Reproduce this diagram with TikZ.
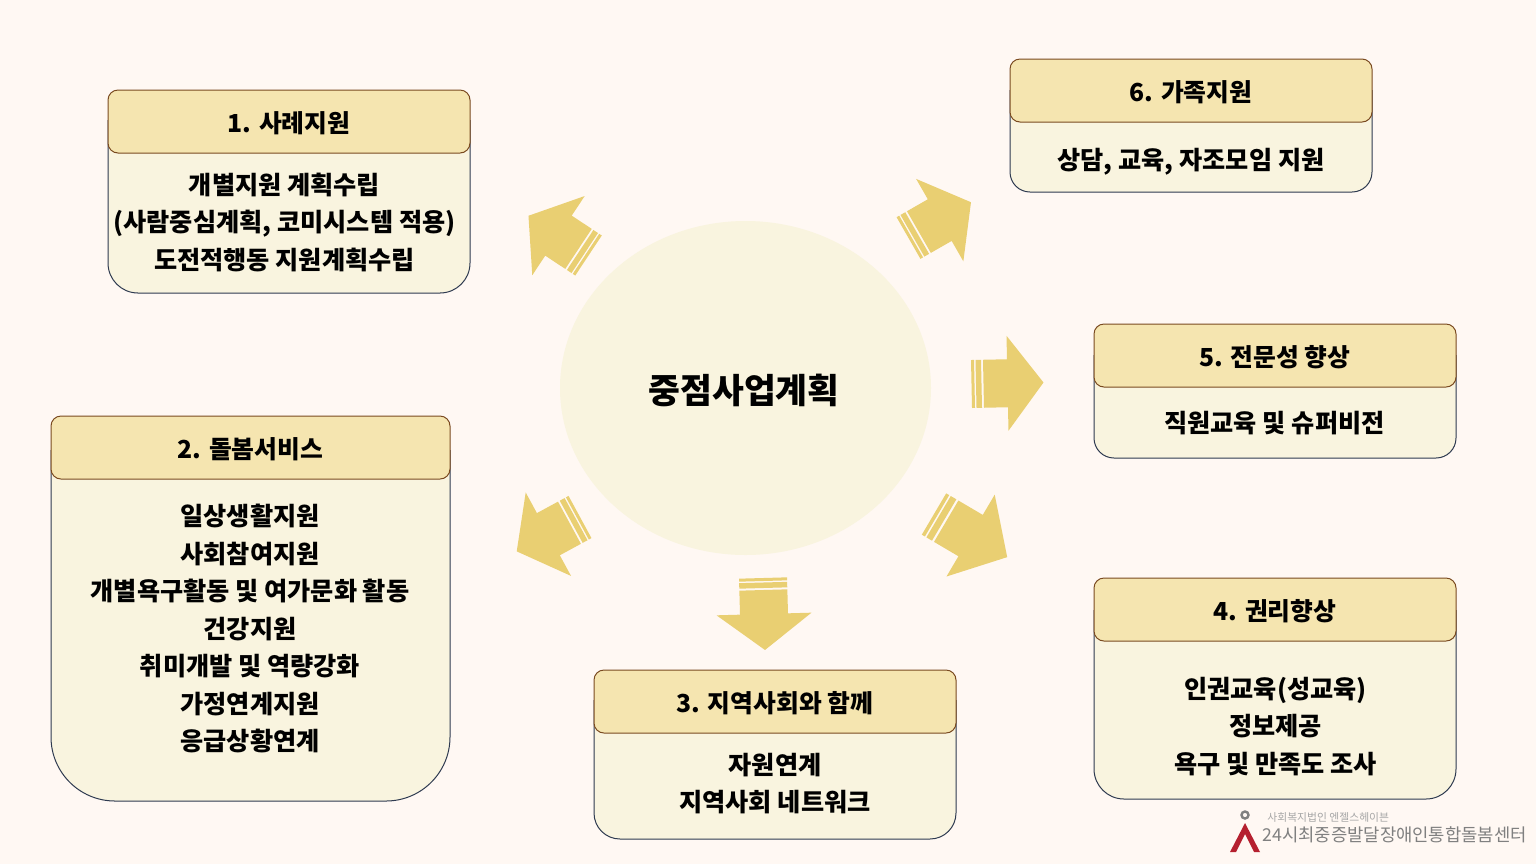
\documentclass[tikz,border=0pt]{standalone}
\usepackage{fontspec}
\setmainfont{Noto Sans CJK KR}
\definecolor{pagebg}{HTML}{FFF8F3}
\definecolor{circlefill}{HTML}{F9F4DF}
\definecolor{bodyfill}{HTML}{F9F4DF}
\definecolor{headfill}{HTML}{F5E5B0}
\definecolor{headline}{HTML}{7A4A20}
\definecolor{bodyline}{HTML}{2E3A50}
\definecolor{arrowfill}{HTML}{E9CF72}
\definecolor{logored}{HTML}{B5202F}
\tikzset{
  bodybox/.style={draw=bodyline, fill=bodyfill, line width=0.5pt},
  headbox/.style={draw=headline, fill=headfill, line width=0.5pt, rounded corners=5pt,
    minimum width=181pt, minimum height=31.5pt, inner sep=0pt, text height=11.2pt, text depth=0.5pt,
    font=\fontsize{12.4}{15}\selectfont\bfseries},
  bodytext/.style={align=center, inner sep=0pt, font=\fontsize{12.6}{18.75}\selectfont\bfseries},
  blockarrow/.pic={
    \fill[arrowfill] (12,-24) -- (36,-24) -- (36,-47.5) -- (72,0) -- (36,47.5) -- (36,24) -- (12,24) -- cycle;
    \fill[arrowfill] (4.5,-24) rectangle (10,24);
    \fill[arrowfill] (0,-24) rectangle (3,24);
  }
}

\begin{document}
\begin{tikzpicture}[x=0.5pt, y=-0.5pt]
  \useasboundingbox (0,0) rectangle (1536,864);
  \fill[pagebg] (0,0) rectangle (1536,864);

  % Centro
  \fill[circlefill] (745.5,388) ellipse [x radius=185.5, y radius=167];
  \node[inner sep=0pt, font=\fontsize{17.3}{20}\selectfont\bfseries] (center) at (744,390) {중점사업계획};

  % Frecce
  \pic (arrowa) [rotate=146.5] at (588.5,255.5) {blockarrow};
  \pic (arrowb) [rotate=208.5] at (580,517) {blockarrow};
  \pic (arrowc) [rotate=-88.4] at (763,578) {blockarrow};
  \pic (arrowd) [rotate=-30.5, xscale=1.18] at (934,514) {blockarrow};
  \pic (arrowe) [rotate=1.2] at (971.5,384) {blockarrow};
  \pic (arrowf) [rotate=29.8] at (908.5,238) {blockarrow};

  % Riquadri
  \draw[bodybox, rounded corners=15pt] (108,120) -- (108,293) -- (470,293) -- (470,120);
  \node[headbox] (heada) at (289,121.5) {1. 사례지원};
  \node[bodytext] (texta) at (284.5,222.5) {개별지원 계획수립\\(사람중심계획, 코미시스템 적용)\\도전적행동 지원계획수립};

  \draw[bodybox, rounded corners=32pt] (51,450) -- (51,801) -- (450,801) -- (450,450);
  \node[headbox, minimum width=199.5pt] (headb) at (250.5,447.5) {2. 돌봄서비스};
  \node[bodytext] (textb) at (250,628.5) {일상생활지원\\사회참여지원\\개별욕구활동 및 여가문화 활동\\건강지원\\취미개발 및 역량강화\\가정연계지원\\응급상황연계};

  \draw[bodybox, rounded corners=13pt] (594,700) -- (594,839) -- (956,839) -- (956,700);
  \node[headbox] (headc) at (775,701.5) {3. 지역사회와 함께};
  \node[bodytext] (textc) at (775,783.5) {자원연계\\지역사회 네트워크};

  \draw[bodybox, rounded corners=15pt] (1094,610) -- (1094,799) -- (1456,799) -- (1456,610);
  \node[headbox] (headd) at (1275,609.5) {4. 권리향상};
  \node[bodytext] (textd) at (1275.5,726.5) {인권교육(성교육)\\정보제공\\욕구 및 만족도 조사};

  \draw[bodybox, rounded corners=10pt] (1094,355) -- (1094,458) -- (1456,458) -- (1456,355);
  \node[headbox] (heade) at (1275,355.5) {5. 전문성 향상};
  \node[bodytext] (texte) at (1274.5,423) {직원교육 및 슈퍼비전};

  \draw[bodybox, rounded corners=10pt] (1010,90) -- (1010,192) -- (1372,192) -- (1372,90);
  \node[headbox] (headf) at (1191,90.5) {6. 가족지원};
  \node[bodytext] (textf) at (1191,161.5) {상담, 교육, 자조모임 지원};

  % Logo
  \draw[gray, line width=1.2pt] (1245,815) circle (3.5);
  \fill[logored] (1245,823) -- (1260,852) -- (1254,852) -- (1245,834) -- (1236,852) -- (1230,852) -- cycle;
  \node[anchor=west, inner sep=0pt, text=gray!70, font=\fontsize{5.4}{7}\selectfont] (logosub) at (1267,817) {사회복지법인 엔젤스헤이븐};
  \node[anchor=west, inner sep=0pt, text=gray, font=\fontsize{8.87}{11}\selectfont] (logomain) at (1262,835) {24시최중증발달장애인통합돌봄센터};
\end{tikzpicture}
\end{document}
